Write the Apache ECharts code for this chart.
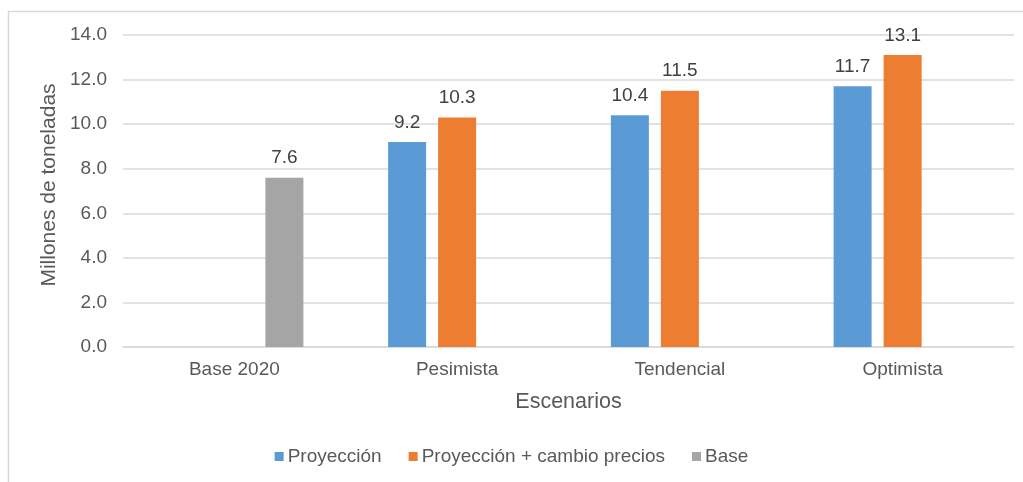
<!DOCTYPE html>
<html>
<head>
<meta charset="utf-8">
<script src="https://cdn.jsdelivr.net/npm/echarts@6/dist/echarts.min.js"></script>
<style>
  html, body { margin: 0; padding: 0; background: #fff; }
  #chart { width: 1023px; height: 482px; }
</style>
</head>
<body>
<div id="chart"></div>
<script>
// Scenario categories and series values (millions of tonnes)
const categories = ['Base 2020', 'Pesimista', 'Tendencial', 'Optimista'];
const proyeccion = [null, 9.2, 10.4, 11.7];
const proyeccionPrecios = [null, 10.3, 11.5, 13.1];
const base = [7.6, null, null, null];
const seriesNames = ['Proyección', 'Proyección + cambio precios', 'Base'];
const yTicks = { min: 0, max: 14, interval: 2 };
const yTitle = 'Millones de toneladas';
const xTitle = 'Escenarios';

const FONT = '"Liberation Sans", Arial, sans-serif';
const chart = echarts.init(document.getElementById('chart'));

const labelStyle = {
  show: true,
  position: 'top',
  distance: 10,
  color: '#404040',
  fontSize: 19,
  fontFamily: FONT,
  formatter: p => p.value == null ? '' : Number(p.value).toFixed(1)
};

function barSeries(name, data, color) {
  return {
    name: name,
    type: 'bar',
    data: data,
    barWidth: 38,
    barGap: '31.6%',
    itemStyle: { color: color },
    label: labelStyle
  };
}

chart.setOption({
  animation: false,
  textStyle: { fontFamily: FONT },
  graphic: [
    {
      type: 'rect',
      shape: { x: 8.5, y: 11.5, width: 1030, height: 490 },
      style: { fill: 'none', stroke: '#d9d9d9', lineWidth: 1.5 },
      silent: true
    },
    {
      type: 'text',
      x: 49,
      y: 185,
      rotation: Math.PI / 2,
      style: {
        text: yTitle,
        fill: '#595959',
        font: '21px ' + FONT,
        textAlign: 'center',
        textVerticalAlign: 'middle'
      },
      silent: true
    }
  ],
  grid: { left: 123, right: 9, top: 35, bottom: 135 },
  legend: {
    data: seriesNames,
    bottom: 11,
    left: 'center',
    icon: 'rect',
    itemWidth: 9,
    itemHeight: 9,
    itemGap: 27,
    textStyle: { color: '#595959', fontSize: 19, fontFamily: FONT, padding: [0, 0, 0, -1] }
  },
  xAxis: {
    type: 'category',
    data: categories,
    name: xTitle,
    nameLocation: 'middle',
    nameGap: 44,
    nameTextStyle: { color: '#595959', fontSize: 21.5, fontFamily: FONT },
    axisLine: { lineStyle: { color: '#d9d9d9', width: 1.5 } },
    axisTick: { show: false },
    axisLabel: { color: '#595959', fontSize: 19, margin: 13, fontFamily: FONT }
  },
  yAxis: {
    type: 'value',
    min: yTicks.min,
    max: yTicks.max,
    interval: yTicks.interval,
    axisLine: { show: false },
    axisTick: { show: false },
    splitLine: { lineStyle: { color: '#d9d9d9', width: 1.5 } },
    axisLabel: {
      color: '#595959', fontSize: 19, margin: 16, fontFamily: FONT,
      formatter: v => v.toFixed(1)
    }
  },
  series: [
    barSeries(seriesNames[0], proyeccion, '#5b9bd5'),
    barSeries(seriesNames[1], proyeccionPrecios, '#ed7d31'),
    barSeries(seriesNames[2], base, '#a5a5a5')
  ]
});
</script>
</body>
</html>
